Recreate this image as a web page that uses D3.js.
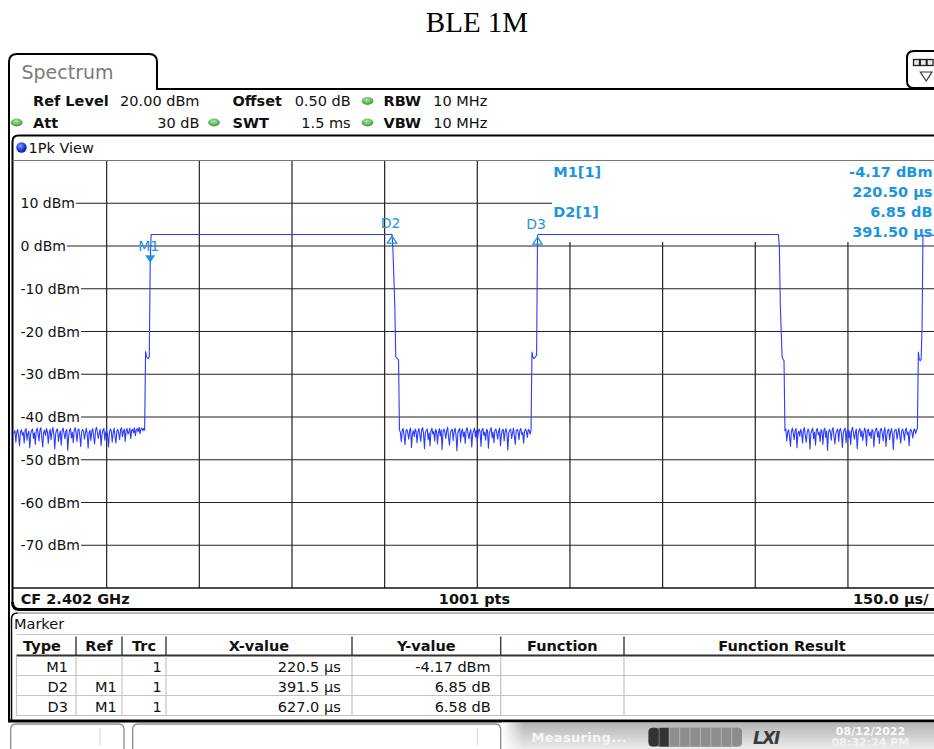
<!DOCTYPE html>
<html>
<head>
<meta charset="utf-8">
<script src="https://cdn.jsdelivr.net/npm/d3@7"></script>
<style>
  html, body { margin: 0; padding: 0; background: #fff; }
  svg { display: block; font-family: "DejaVu Sans", Verdana, sans-serif; }
</style>
</head>
<body>
<svg id="chart" width="934" height="749"></svg>
<script>
// ---------------- Data ----------------
const title = "BLE 1M";

// Sweep: zero span, 10 divisions of 150 µs, 1001 points
const sweepUs = 1500;
const samplePeriodUs = 1.5;
const refLevelDbm = 20;
const levelRangeDb = 100;
const levelTicks = [10, 0, -10, -20, -30, -40, -50, -60, -70];
const timeDivisions = [150, 300, 450, 600, 750, 900, 1050, 1200, 1350];

// Instrument settings
const settingsRow1 = [["Ref Level", "20.00 dBm"], ["Offset", "0.50 dB"], ["RBW", "10 MHz"]];
const settingsRow2 = [["Att", "30 dB"], ["SWT", "1.5 ms"], ["VBW", "10 MHz"]];
const footerLeft = "CF 2.402 GHz";
const footerMid = "1001 pts";
const footerRight = "150.0 µs/";

// Markers (M1 absolute, D2/D3 relative to M1)
const markerNames = ["M1", "D2", "D3"];
const markerRefs = ["", "M1", "M1"];
const markerTraces = [1, 1, 1];
const markerX = [220.5, 391.5, 627.0];   // µs
const markerY = [-4.17, 6.85, 6.58];     // dBm for M1, dB for deltas

// Trace, sample index -> level (dBm)
// noise floor before first burst: samples 0..141
const noiseA = [
  -43.8,-43.2,-45.9,-43.5,-42.9,-44.6,-46.8,-43.4,-43.0,-44.2,-43.6,-46.1,-43.1,-42.7,-45.4,-43.9,-43.3,-47.2,-44.0,-43.2,
  -42.8,-45.0,-43.7,-46.4,-43.3,-42.6,-43.9,-45.6,-43.0,-42.5,-44.8,-47.0,-43.6,-43.1,-44.3,-42.7,-43.4,-46.2,-43.8,-42.9,
  -45.3,-43.5,-42.4,-44.1,-47.5,-43.9,-43.0,-42.8,-45.7,-44.2,-43.3,-46.6,-43.2,-42.6,-43.8,-45.1,-43.4,-42.9,-47.8,-44.5,
  -43.1,-42.7,-44.9,-43.6,-46.0,-43.2,-42.5,-43.7,-45.8,-43.0,-42.8,-44.4,-46.9,-43.5,-42.9,-43.3,-45.2,-43.9,-42.6,-44.0,
  -47.3,-43.7,-43.1,-45.5,-43.4,-42.7,-44.7,-46.3,-43.2,-42.4,-43.6,-45.0,-43.8,-42.9,-46.7,-44.1,-43.0,-42.7,-45.4,-43.5,
  -43.1,-44.3,-47.0,-43.6,-42.8,-43.2,-45.9,-43.7,-42.6,-44.5,-46.1,-43.3,-42.9,-43.8,-45.3,-43.0,-42.5,-44.6,-43.4,-42.8,
  -45.7,-43.2,-42.7,-44.0,-43.5,-42.6,-45.1,-43.1,-42.9,-43.7,-42.5,-44.4,-43.0,-42.7,-43.5,-42.4,-43.9,-42.8,-42.6,-43.2,
  -42.7,-43.1
];
const noiseAStart = 0;

// first burst: rising edge (M1 on it), plateau, falling edge (D2 at its start)
const burst1 = [
  [142, -24.7], [143, -25.8], [144, -26.2], [145, -26.3], [146, -25.9], [147, -4.17],
  [148, 2.68], [408, 2.68],
  [409, -1.2], [410, -7.5], [411, -14.4], [412, -25.9], [413, -26.2], [414, -26.4], [415, -26.6]
];

// noise floor between bursts: samples 416..558
const noiseB = [
  -43.0,-43.6,-45.8,-43.2,-42.7,-44.4,-46.5,-43.3,-42.9,-43.8,-45.2,-43.1,-42.6,-47.1,-43.9,-43.2,-44.6,-42.8,-43.5,-46.0,
  -43.4,-42.7,-44.1,-45.7,-43.0,-42.5,-43.9,-47.4,-43.6,-43.1,-42.8,-45.3,-43.7,-46.8,-43.2,-42.6,-44.0,-43.4,-45.6,-42.9,
  -43.3,-46.3,-43.8,-42.7,-44.5,-43.0,-47.6,-43.5,-42.8,-43.6,-45.0,-43.2,-42.4,-44.8,-46.6,-43.7,-43.0,-42.9,-45.5,-43.4,
  -42.6,-44.2,-47.9,-43.8,-43.1,-42.7,-45.9,-43.3,-42.8,-44.6,-43.5,-46.2,-43.0,-42.5,-43.9,-45.1,-43.6,-42.9,-47.0,-44.0,
  -43.2,-42.6,-44.7,-43.1,-45.8,-43.7,-42.8,-43.4,-46.9,-43.0,-42.7,-44.3,-43.6,-45.4,-42.9,-43.2,-47.3,-43.8,-43.0,-42.5,
  -44.9,-43.5,-46.0,-43.1,-42.8,-43.7,-45.2,-43.3,-42.6,-46.7,-44.2,-43.0,-42.9,-45.6,-43.4,-42.7,-44.0,-47.7,-43.6,-43.1,
  -42.8,-45.0,-43.9,-42.6,-44.4,-46.4,-43.2,-42.9,-43.5,-45.3,-43.0,-42.7,-44.1,-43.6,-46.1,-43.3,-42.8,-43.4,-44.8,-42.9,
  -43.2,-44.0,-43.0
];
const noiseBStart = 416;

// second burst: rising edge (D3 on top of it), plateau, falling edge
const burst2 = [
  [559, -24.8], [560, -26.0], [561, -26.3], [562, -26.2], [563, -25.8], [564, -25.6], [565, 2.41],
  [566, 2.7], [825, 2.7],
  [826, -0.3], [827, -13.6], [828, -20.0], [829, -25.9], [830, -26.5], [831, -26.8]
];

// noise floor after second burst: samples 832..975
const noiseC = [
  -43.2,-42.8,-45.6,-43.5,-43.0,-44.7,-46.9,-43.4,-42.6,-43.9,-45.3,-43.1,-42.7,-47.2,-43.8,-43.3,-44.5,-42.9,-43.6,-46.1,
  -43.0,-42.5,-44.3,-45.9,-43.7,-42.8,-43.4,-47.5,-43.9,-43.1,-42.6,-45.1,-43.5,-46.6,-43.0,-42.7,-44.2,-43.6,-45.8,-42.9,
  -43.4,-46.4,-43.1,-42.6,-44.8,-43.3,-47.8,-43.7,-42.9,-43.5,-45.4,-43.0,-42.5,-44.6,-46.3,-43.8,-43.2,-42.8,-45.7,-43.1,
  -42.7,-44.0,-47.1,-43.6,-43.0,-42.6,-46.0,-43.4,-42.9,-44.9,-43.3,-46.5,-43.1,-42.4,-43.8,-45.2,-43.7,-42.8,-47.4,-44.1,
  -43.0,-42.7,-44.6,-43.2,-45.5,-43.9,-42.6,-43.3,-46.8,-43.1,-42.8,-44.4,-43.5,-45.0,-42.9,-43.3,-47.0,-43.7,-42.9,-42.6,
  -44.7,-43.4,-46.2,-43.0,-42.7,-43.8,-45.6,-43.2,-42.5,-46.9,-44.3,-43.1,-42.8,-45.3,-43.6,-42.7,-44.1,-47.6,-43.5,-43.0,
  -42.9,-45.2,-43.8,-42.6,-44.5,-46.1,-43.3,-42.8,-43.7,-45.4,-43.1,-42.6,-44.2,-43.5,-46.7,-43.2,-42.9,-43.6,-44.9,-43.0,
  -42.8,-43.9,-43.1,-42.7
];
const noiseCStart = 832;

// third burst: rising edge, plateau to end of sweep
const burst3 = [
  [976, -24.8], [977, -26.6], [978, -26.8], [979, -26.5], [980, -19.0], [981, 2.5], [1000, 2.5]
];

// Marker table columns
const tableHeaders = ["Type", "Ref", "Trc", "X-value", "Y-value", "Function", "Function Result"];

// ---------------- Drawing ----------------
const svg = d3.select("#chart");
const W = 934, H = 749;
const FS = 14.5;
const COL = {
  ink: "#111", grid: "#222", trace: "#2b3cff", marker: "#1b95de",
  tabText: "#7a7a7a", lightLine: "#c4c4c4"
};

const defs = svg.append("defs");
const gGreen = defs.append("radialGradient").attr("id", "ledGreen").attr("cx", "45%").attr("cy", "35%").attr("r", "70%");
gGreen.append("stop").attr("offset", "0%").attr("stop-color", "#b6e3b0");
gGreen.append("stop").attr("offset", "60%").attr("stop-color", "#5cb85a");
gGreen.append("stop").attr("offset", "100%").attr("stop-color", "#3d8f3b");
const gBlue = defs.append("radialGradient").attr("id", "ledBlue").attr("cx", "40%").attr("cy", "35%").attr("r", "70%");
gBlue.append("stop").attr("offset", "0%").attr("stop-color", "#8aa2ff");
gBlue.append("stop").attr("offset", "55%").attr("stop-color", "#1f3fe0");
gBlue.append("stop").attr("offset", "100%").attr("stop-color", "#0b1c9a");
const gStatus = defs.append("linearGradient").attr("id", "statusBg").attr("x1", 0).attr("y1", 0).attr("x2", 0).attr("y2", 1);
gStatus.append("stop").attr("offset", "0%").attr("stop-color", "#b3b3b3");
gStatus.append("stop").attr("offset", "100%").attr("stop-color", "#ececec");
const gFade = defs.append("linearGradient").attr("id", "statusFade").attr("x1", 0).attr("y1", 0).attr("x2", 1).attr("y2", 0);
gFade.append("stop").attr("offset", "0%").attr("stop-color", "#fff").attr("stop-opacity", 1);
gFade.append("stop").attr("offset", "100%").attr("stop-color", "#fff").attr("stop-opacity", 0);

svg.append("rect").attr("width", W).attr("height", H).attr("fill", "#fff");

// Title
svg.append("text")
  .attr("x", 477).attr("y", 32).attr("text-anchor", "middle")
  .style("font-family", "'Liberation Serif', 'Times New Roman', serif")
  .style("font-size", "29px").attr("fill", "#000")
  .text(title);

// Spectrum tab and outer frame
svg.append("path")
  .attr("d", "M9,721 L9,62 Q9,54 17,54 L149,54 Q157,54 157,62 L157,89 L934,89")
  .attr("fill", "none").attr("stroke", "#000").attr("stroke-width", 2);
svg.append("text").attr("x", 21.5).attr("y", 78.5)
  .style("font-size", "19px").attr("fill", COL.tabText).text("Spectrum");

// Top right menu button
svg.append("path")
  .attr("d", "M936,51 L914,51 Q907,51 907,58 L907,81 Q907,88 914,88 L936,88")
  .attr("fill", "#fff").attr("stroke", "#000").attr("stroke-width", 2);
[913.5, 920.3, 927.1].forEach(px => {
  svg.append("rect").attr("x", px).attr("y", 59.5).attr("width", 6).attr("height", 6)
    .attr("fill", "#e8e8e8").attr("stroke", "#222").attr("stroke-width", 1.3);
});
svg.append("path").attr("d", "M920.3,72 L932,72 L926.2,81 Z")
  .attr("fill", "#fff").attr("stroke", "#333").attr("stroke-width", 1.2);

// Settings header
function bold(sel) { return sel.style("font-weight", "bold"); }
const labelX = [33, 232.5, 383.5];
const valueEnd = [199.5, 350.7, 487.3];
[[settingsRow1, 101], [settingsRow2, 122.5]].forEach(([row, cy]) => {
  row.forEach(([lab, val], k) => {
    bold(svg.append("text").attr("x", labelX[k]).attr("y", cy + 5.2)
      .style("font-size", FS + "px").attr("fill", COL.ink).text(lab));
    svg.append("text").attr("x", valueEnd[k]).attr("y", cy + 5.2).attr("text-anchor", "end")
      .style("font-size", FS + "px").attr("fill", COL.ink).text(val);
  });
});
// status LEDs
[[367.5, 101], [16.7, 122.5], [214, 122.5], [367.5, 122.5]].forEach(([cx, cy]) => {
  svg.append("ellipse").attr("cx", cx).attr("cy", cy).attr("rx", 5.9).attr("ry", 3.9)
    .attr("fill", "url(#ledGreen)");
});

// Trace window panel border (header line, left edge, footer line)
svg.append("path")
  .attr("d", "M12.5,603 L12.5,141.5 Q12.5,135.5 18.5,135.5 L934,135.5")
  .attr("fill", "none").attr("stroke", "#000").attr("stroke-width", 2);
svg.append("path")
  .attr("d", "M12.5,602 Q12.5,609.5 19.5,609.5 L934,609.5")
  .attr("fill", "none").attr("stroke", "#000").attr("stroke-width", 3);

svg.append("circle").attr("cx", 21.5).attr("cy", 147.5).attr("r", 5.2).attr("fill", "url(#ledBlue)");
svg.append("text").attr("x", 28.5).attr("y", 152.5)
  .style("font-size", FS + "px").attr("fill", COL.ink).text("1Pk View");

// Plot scales
const plotBox = { left: 14, right: 940.6, top: 160.5, bottom: 588 };
const x = d3.scaleLinear().domain([0, sweepUs]).range([plotBox.left, plotBox.right]);
const y = d3.scaleLinear().domain([refLevelDbm - levelRangeDb, refLevelDbm]).range([plotBox.bottom, plotBox.top]);

defs.append("clipPath").attr("id", "plotClip").append("rect")
  .attr("x", 13).attr("y", plotBox.top).attr("width", W - 13).attr("height", plotBox.bottom - plotBox.top);

const plot = svg.append("g").attr("clip-path", "url(#plotClip)");

// vertical divisions
plot.selectAll("line.vgrid").data(timeDivisions).join("line")
  .attr("class", "vgrid")
  .attr("x1", d => x(d)).attr("x2", d => x(d))
  .attr("y1", plotBox.top).attr("y2", plotBox.bottom)
  .attr("stroke", COL.grid).attr("stroke-width", 1.2);

// level labels with grid lines starting right after them
const lvl = plot.selectAll("g.lvl").data(levelTicks).join("g").attr("class", "lvl");
lvl.append("text")
  .attr("x", 20.5).attr("y", d => y(d)).attr("dy", "0.36em")
  .style("font-size", "14px").attr("fill", COL.ink)
  .text(d => d + " dBm");
lvl.each(function (d) {
  const t = d3.select(this).select("text").node();
  const w = t.getComputedTextLength();
  d3.select(this).append("line")
    .attr("x1", 20.5 + w + 1).attr("x2", plotBox.right)
    .attr("y1", y(d)).attr("y2", y(d))
    .attr("stroke", COL.grid).attr("stroke-width", 1.2);
});

// marker readout area hides the grid behind it
plot.append("rect").attr("x", 552).attr("y", plotBox.top).attr("width", 400).attr("height", 242 - plotBox.top)
  .attr("fill", "#fff");

// Trace
const trace = [].concat(
  noiseA.map((v, k) => [noiseAStart + k, v]),
  burst1,
  noiseB.map((v, k) => [noiseBStart + k, v]),
  burst2,
  noiseC.map((v, k) => [noiseCStart + k, v]),
  burst3
);
const line = d3.line()
  .x(d => x(d[0] * samplePeriodUs))
  .y(d => y(d[1]));
plot.append("path").datum(trace)
  .attr("d", line)
  .attr("fill", "none").attr("stroke", COL.trace).attr("stroke-width", 1.1)
  .attr("stroke-linejoin", "round");

// Markers on the trace
const markerPos = markerNames.map((name, k) => {
  const t = k === 0 ? markerX[0] : markerX[0] + markerX[k];
  const lv = k === 0 ? markerY[0] : markerY[0] + markerY[k];
  return { name, t, lv, px: x(t), py: y(lv), delta: k > 0 };
});
markerPos.forEach(m => {
  if (!m.delta) {
    plot.append("path")
      .attr("d", `M${m.px - 5},${m.py - 8.5} L${m.px + 5},${m.py - 8.5} L${m.px},${m.py - 1} Z`)
      .attr("fill", COL.marker);
    plot.append("text").attr("x", m.px - 1.5).attr("y", m.py - 18).attr("dy", "0.36em")
      .attr("text-anchor", "middle").style("font-size", "14px").attr("fill", COL.marker).text(m.name);
  } else {
    plot.append("path")
      .attr("d", `M${m.px},${m.py + 1.5} L${m.px + 4.6},${m.py + 8.5} L${m.px - 4.6},${m.py + 8.5} Z`)
      .attr("fill", "none").attr("stroke", COL.marker).attr("stroke-width", 1.3);
    plot.append("text").attr("x", m.px - 1.5).attr("y", m.py - 11.5).attr("dy", "0.36em")
      .attr("text-anchor", "middle").style("font-size", "14px").attr("fill", COL.marker).text(m.name);
  }
});

// Marker readout (M1 and D2)
const readout = [
  { label: `${markerNames[0]}[${markerTraces[0]}]`, lines: [`${markerY[0].toFixed(2)} dBm`, `${markerX[0].toFixed(2)} µs`], cy: 171.5 },
  { label: `${markerNames[1]}[${markerTraces[1]}]`, lines: [`${markerY[1].toFixed(2)} dB`, `${markerX[1].toFixed(2)} µs`], cy: 211.7 }
];
readout.forEach(r => {
  bold(svg.append("text").attr("x", 553.3).attr("y", r.cy).attr("dy", "0.36em")
    .style("font-size", FS + "px").attr("fill", COL.marker).text(r.label));
  r.lines.forEach((s, j) => {
    bold(svg.append("text").attr("x", 932.5).attr("y", r.cy + j * 20).attr("dy", "0.36em")
      .attr("text-anchor", "end").style("font-size", FS + "px").attr("fill", COL.marker).text(s));
  });
});

// Plot frame lines
svg.append("line").attr("x1", 12.5).attr("x2", W).attr("y1", plotBox.top).attr("y2", plotBox.top)
  .attr("stroke", "#777").attr("stroke-width", 1.2);
svg.append("line").attr("x1", 12.5).attr("x2", W).attr("y1", plotBox.bottom).attr("y2", plotBox.bottom)
  .attr("stroke", "#111").attr("stroke-width", 1.5);

// Footer of trace window
bold(svg.append("text").attr("x", 20.7).attr("y", 598.5).attr("dy", "0.36em")
  .style("font-size", FS + "px").attr("fill", COL.ink).text(footerLeft));
bold(svg.append("text").attr("x", 474.5).attr("y", 598.5).attr("dy", "0.36em").attr("text-anchor", "middle")
  .style("font-size", FS + "px").attr("fill", COL.ink).text(footerMid));
bold(svg.append("text").attr("x", 928.5).attr("y", 598.5).attr("dy", "0.36em").attr("text-anchor", "end")
  .style("font-size", FS + "px").attr("fill", COL.ink).text(footerRight));

// Marker table panel
svg.append("path")
  .attr("d", "M11.5,720 L11.5,619 Q11.5,613 17.5,613 L934,613")
  .attr("fill", "none").attr("stroke", "#000").attr("stroke-width", 1.5);
svg.append("line").attr("x1", 17.5).attr("x2", W).attr("y1", 613).attr("y2", 613)
  .attr("stroke", "#e2e2e2").attr("stroke-width", 1.5);
svg.append("text").attr("x", 14).attr("y", 623.5).attr("dy", "0.36em")
  .style("font-size", FS + "px").attr("fill", COL.ink).text("Marker");

const colEdges = [8, 76, 122, 166, 352, 500.7, 624, 940];
const hdrTop = 634.5, hdrBottom = 655.5, rowH = 20;

svg.append("line").attr("x1", 16.5).attr("x2", W).attr("y1", hdrTop).attr("y2", hdrTop)
  .attr("stroke", COL.lightLine).attr("stroke-width", 1.2);
colEdges.slice(1, -1).forEach(cx => {
  svg.append("line").attr("x1", cx).attr("x2", cx).attr("y1", hdrTop + 2).attr("y2", hdrBottom)
    .attr("stroke", "#444").attr("stroke-width", 1.5);
});
tableHeaders.forEach((h, k) => {
  bold(svg.append("text").attr("x", (colEdges[k] + colEdges[k + 1]) / 2).attr("y", 645.5).attr("dy", "0.36em")
    .attr("text-anchor", "middle").style("font-size", FS + "px").attr("fill", COL.ink).text(h));
});
svg.append("line").attr("x1", 16.5).attr("x2", W).attr("y1", hdrBottom).attr("y2", hdrBottom)
  .attr("stroke", "#333").attr("stroke-width", 2);

const tableRows = markerNames.map((n, k) => [
  n,
  markerRefs[k],
  String(markerTraces[k]),
  `${markerX[k].toFixed(1)} µs`,
  k === 0 ? `${markerY[k].toFixed(2)} dBm` : `${markerY[k].toFixed(2)} dB`
]);
const cellEnd = [68, 116.7, 161.7, 340.7, 490.7];
tableRows.forEach((row, r) => {
  const yb = hdrBottom + (r + 1) * rowH;
  svg.append("line").attr("x1", 16.5).attr("x2", W).attr("y1", yb).attr("y2", yb)
    .attr("stroke", COL.lightLine).attr("stroke-width", 1.2);
  row.forEach((s, c) => {
    svg.append("text").attr("x", cellEnd[c]).attr("y", yb - rowH / 2 + 1).attr("dy", "0.36em")
      .attr("text-anchor", "end").style("font-size", FS + "px").attr("fill", COL.ink).text(s);
  });
});
[16.5].concat(colEdges.slice(1, -1)).forEach(cx => {
  svg.append("line").attr("x1", cx).attr("x2", cx).attr("y1", hdrBottom + 1)
    .attr("y2", hdrBottom + tableRows.length * rowH)
    .attr("stroke", COL.lightLine).attr("stroke-width", 1.2);
});

// Bottom frame line
svg.append("line").attr("x1", 8).attr("x2", W).attr("y1", 721).attr("y2", 721)
  .attr("stroke", "#000").attr("stroke-width", 3.2);

// Status bar
svg.append("rect").attr("x", 502).attr("y", 722.6).attr("width", W - 502).attr("height", H - 722.6)
  .attr("fill", "url(#statusBg)");
svg.append("rect").attr("x", 502).attr("y", 722.6).attr("width", 22).attr("height", H - 722.6)
  .attr("fill", "url(#statusFade)");
[[10.7, 124, 100], [132.7, 500.7, 477.3]].forEach(([x0, x1, dv]) => {
  svg.append("path")
    .attr("d", `M${x0},752 L${x0},730 Q${x0},724 ${x0 + 5},724 L${x1 - 5},724 Q${x1},724 ${x1},730 L${x1},752`)
    .attr("fill", "#fff").attr("stroke", "#8c8c8c").attr("stroke-width", 1.3);
  svg.append("line").attr("x1", dv).attr("x2", dv).attr("y1", 728).attr("y2", 745)
    .attr("stroke", "#d8d8d8").attr("stroke-width", 1);
});
bold(svg.append("text").attr("x", 531.5).attr("y", 737.5).attr("dy", "0.36em")
  .style("font-size", "13px").style("letter-spacing", "0.3px").attr("fill", "#f6f6f6").text("Measuring..."));

// progress indicator
svg.append("rect").attr("x", 648.5).attr("y", 727.8).attr("width", 93.5).attr("height", 18.8).attr("rx", 5)
  .attr("fill", "#8f8f8f");
const segCount = 9, segW = 93.5 / segCount;
for (let k = 0; k < segCount; k++) {
  svg.append("rect").attr("x", 648.5 + k * segW + (k ? 0.6 : 0)).attr("y", 727.8)
    .attr("width", segW - (k ? 0.6 : 0)).attr("height", 18.8)
    .attr("rx", (k === 0 || k === segCount - 1) ? 4 : 0)
    .attr("fill", k < 2 ? "#333" : "#8d8d8d");
  if (k) svg.append("line").attr("x1", 648.5 + k * segW).attr("x2", 648.5 + k * segW)
    .attr("y1", 728).attr("y2", 746.4).attr("stroke", k < 2 ? "#555" : "#b4b4b4").attr("stroke-width", 1);
}
svg.append("text").attr("x", 753).attr("y", 743.5)
  .style("font-size", "17px").style("font-weight", "bold").style("font-style", "italic")
  .style("letter-spacing", "-1.5px").attr("fill", "#3a3a3a").text("LXI");
bold(svg.append("text").attr("x", 870.5).attr("y", 731).attr("dy", "0.36em").attr("text-anchor", "middle")
  .style("font-size", "11px").attr("fill", "#fbfbfb").text("08/12/2022"));
bold(svg.append("text").attr("x", 870.5).attr("y", 742.5).attr("dy", "0.36em").attr("text-anchor", "middle")
  .style("font-size", "11px").attr("fill", "#f3f3f3").text("08:32:24 PM"));
</script>
</body>
</html>
